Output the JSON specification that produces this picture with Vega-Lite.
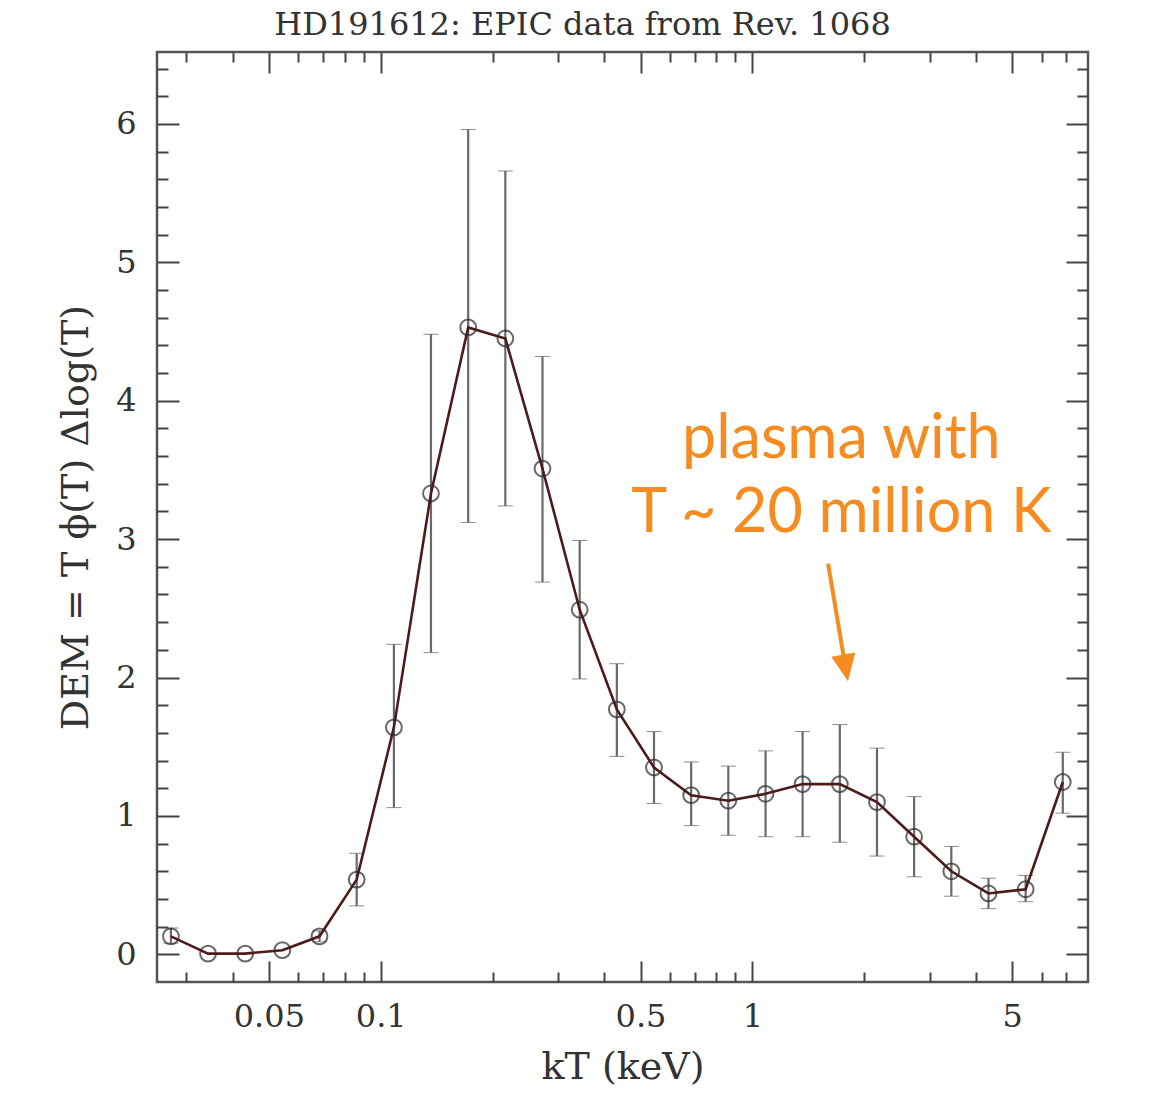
{
  "$schema": "https://vega.github.io/schema/vega-lite/v6.json",
  "width": 931,
  "height": 930,
  "autosize": {"type": "none"},
  "padding": {"left": 157, "top": 52, "right": 69, "bottom": 117},
  "background": "white",
  "title": {
    "text": "HD191612: EPIC data from Rev. 1068",
    "font": "DejaVu Serif",
    "fontSize": 32,
    "fontWeight": "normal",
    "color": "#333333",
    "anchor": "middle",
    "baseline": "alphabetic",
    "offset": -16,
    "dx": -40
  },
  "datasets": {
    "dem": [
      {"kT": 0.02725, "dem": 0.13, "lo": 0.08, "hi": 0.19},
      {"kT": 0.0343, "dem": 0.005, "lo": null, "hi": null},
      {"kT": 0.04318, "dem": 0.005, "lo": null, "hi": null},
      {"kT": 0.05436, "dem": 0.03, "lo": null, "hi": null},
      {"kT": 0.06843, "dem": 0.13, "lo": 0.09, "hi": 0.17},
      {"kT": 0.08615, "dem": 0.54, "lo": 0.35, "hi": 0.73},
      {"kT": 0.1085, "dem": 1.64, "lo": 1.06, "hi": 2.24},
      {"kT": 0.1365, "dem": 3.33, "lo": 2.18, "hi": 4.48},
      {"kT": 0.1719, "dem": 4.53, "lo": 3.12, "hi": 5.96},
      {"kT": 0.2164, "dem": 4.45, "lo": 3.24, "hi": 5.66},
      {"kT": 0.2724, "dem": 3.51, "lo": 2.69, "hi": 4.32},
      {"kT": 0.343, "dem": 2.49, "lo": 1.99, "hi": 2.99},
      {"kT": 0.4318, "dem": 1.77, "lo": 1.43, "hi": 2.1},
      {"kT": 0.5436, "dem": 1.35, "lo": 1.09, "hi": 1.61},
      {"kT": 0.6843, "dem": 1.15, "lo": 0.93, "hi": 1.39},
      {"kT": 0.8615, "dem": 1.11, "lo": 0.86, "hi": 1.36},
      {"kT": 1.085, "dem": 1.16, "lo": 0.85, "hi": 1.47},
      {"kT": 1.365, "dem": 1.23, "lo": 0.85, "hi": 1.61},
      {"kT": 1.719, "dem": 1.23, "lo": 0.81, "hi": 1.66},
      {"kT": 2.164, "dem": 1.1, "lo": 0.71, "hi": 1.49},
      {"kT": 2.724, "dem": 0.85, "lo": 0.56, "hi": 1.14},
      {"kT": 3.43, "dem": 0.6, "lo": 0.42, "hi": 0.78},
      {"kT": 4.318, "dem": 0.44, "lo": 0.33, "hi": 0.55},
      {"kT": 5.436, "dem": 0.47, "lo": 0.38, "hi": 0.57},
      {"kT": 6.843, "dem": 1.245, "lo": 1.02, "hi": 1.46}
    ],
    "note": [
      {"kT": 1.735, "y": 3.588, "label": "plasma with"},
      {"kT": 1.735, "y": 3.049, "label": "T ~ 20 million K"}
    ],
    "arrow": [
      {"kT": 1.598, "y": 2.823, "kT2": 1.782, "y2": 2.069}
    ]
  },
  "layer": [
    {
      "data": {"name": "dem"},
      "transform": [{"filter": "isValid(datum.lo)"}],
      "mark": {
        "type": "errorbar",
        "ticks": {"size": 15, "color": "#5e5e5e", "strokeWidth": 2.2},
        "rule": {"color": "#6a6a6a", "strokeWidth": 2.2}
      },
      "encoding": {
        "x": {"field": "kT", "type": "quantitative", "scale": {"type": "log", "domain": [0.025, 8], "nice": false}, "axis": null},
        "y": {"field": "lo", "type": "quantitative", "scale": {"domain": [-0.2, 6.52], "nice": false, "zero": false}, "axis": null},
        "y2": {"field": "hi"}
      }
    },
    {
      "data": {"name": "dem"},
      "mark": {"type": "line", "interpolate": "linear", "color": "#4e1a1a", "strokeWidth": 2.6},
      "encoding": {
        "x": {
          "field": "kT", "type": "quantitative",
          "scale": {"type": "log", "domain": [0.025, 8], "nice": false},
          "axis": {
            "orient": "top",
            "values": [0.03,0.04,0.05,0.06,0.07,0.08,0.09,0.1,0.2,0.3,0.4,0.5,0.6,0.7,0.8,0.9,1,2,3,4,5,6,7],
            "labels": false,
            "title": null,
            "tickSize": {"condition": {"test": "indexof([0.05,0.1,0.5,1,5], datum.value) >= 0", "value": -21}, "value": -10}
          }
        },
        "y": {
          "field": "dem", "type": "quantitative",
          "scale": {"domain": [-0.2, 6.52], "nice": false, "zero": false},
          "axis": {
            "orient": "right",
            "values": [0,0.2,0.4,0.6,0.8,1,1.2,1.4,1.6,1.8,2,2.2,2.4,2.6,2.8,3,3.2,3.4,3.6,3.8,4,4.2,4.4,4.6,4.8,5,5.2,5.4,5.6,5.8,6,6.2,6.4],
            "labels": false,
            "title": null,
            "tickSize": {"condition": {"test": "datum.value == round(datum.value)", "value": -22}, "value": -11}
          }
        }
      }
    },
    {
      "data": {"name": "dem"},
      "mark": {"type": "point", "shape": "circle", "filled": false, "size": 250, "color": "#2a2a2a", "strokeWidth": 2},
      "encoding": {
        "x": {
          "field": "kT", "type": "quantitative",
          "scale": {"type": "log", "domain": [0.025, 8], "nice": false},
          "axis": {
            "orient": "bottom",
            "values": [0.03,0.04,0.05,0.06,0.07,0.08,0.09,0.1,0.2,0.3,0.4,0.5,0.6,0.7,0.8,0.9,1,2,3,4,5,6,7],
            "format": "~g",
            "labelExpr": "indexof([0.05,0.1,0.5,1,5], datum.value) >= 0 ? datum.label : ''",
            "labelOverlap": false,
            "labelFlush": false,
            "labelPadding": 40,
            "title": "kT (keV)",
            "titleBaseline": "alphabetic",
            "titleY": 96,
            "tickSize": {"condition": {"test": "indexof([0.05,0.1,0.5,1,5], datum.value) >= 0", "value": -21}, "value": -10}
          }
        },
        "y": {
          "field": "dem", "type": "quantitative",
          "scale": {"domain": [-0.2, 6.52], "nice": false, "zero": false},
          "axis": {
            "orient": "left",
            "values": [0,0.2,0.4,0.6,0.8,1,1.2,1.4,1.6,1.8,2,2.2,2.4,2.6,2.8,3,3.2,3.4,3.6,3.8,4,4.2,4.4,4.6,4.8,5,5.2,5.4,5.6,5.8,6,6.2,6.4],
            "labelExpr": "datum.value == round(datum.value) ? format(datum.value, 'd') : ''",
            "labelOverlap": false,
            "labelFlush": false,
            "labelPadding": 43,
            "title": "DEM = T ϕ(T) Δlog(T)",
            "titleBaseline": "alphabetic",
            "titleX": -70,
            "tickSize": {"condition": {"test": "datum.value == round(datum.value)", "value": -22}, "value": -11}
          }
        }
      }
    },
    {
      "data": {"name": "arrow"},
      "mark": {"type": "rule", "color": "#f68b1f", "strokeWidth": 4},
      "encoding": {
        "x": {"field": "kT", "type": "quantitative", "scale": {"type": "log", "domain": [0.025, 8], "nice": false}, "axis": null},
        "y": {"field": "y", "type": "quantitative", "scale": {"domain": [-0.2, 6.52], "nice": false, "zero": false}, "axis": null},
        "x2": {"field": "kT2"},
        "y2": {"field": "y2"}
      }
    },
    {
      "data": {"name": "arrow"},
      "mark": {"type": "point", "shape": "M0,1L-0.9,-1L0.9,-1Z", "filled": true, "size": 729, "color": "#f68b1f", "opacity": 1, "angle": 350, "strokeWidth": 0},
      "encoding": {
        "x": {"field": "kT2", "type": "quantitative", "scale": {"type": "log", "domain": [0.025, 8], "nice": false}, "axis": null},
        "y": {"field": "y2", "type": "quantitative", "scale": {"domain": [-0.2, 6.52], "nice": false, "zero": false}, "axis": null}
      }
    },
    {
      "data": {"name": "note"},
      "mark": {"type": "text", "font": "Lato", "fontSize": 61, "color": "#f68b1f", "align": "center", "baseline": "alphabetic"},
      "encoding": {
        "x": {"field": "kT", "type": "quantitative", "scale": {"type": "log", "domain": [0.025, 8], "nice": false}, "axis": null},
        "y": {"field": "y", "type": "quantitative", "scale": {"domain": [-0.2, 6.52], "nice": false, "zero": false}, "axis": null},
        "text": {"field": "label"}
      }
    }
  ],
  "resolve": {"axis": {"x": "independent", "y": "independent"}},
  "config": {
    "view": {"stroke": "#555555", "strokeWidth": 2.5},
    "axis": {
      "domain": false,
      "grid": false,
      "tickColor": "#444444",
      "tickWidth": 2,
      "labelFont": "DejaVu Serif",
      "labelFontSize": 32,
      "labelColor": "#333333",
      "titleFont": "DejaVu Serif",
      "titleFontSize": 38,
      "titleFontWeight": "normal",
      "titleColor": "#333333"
    }
  }
}
